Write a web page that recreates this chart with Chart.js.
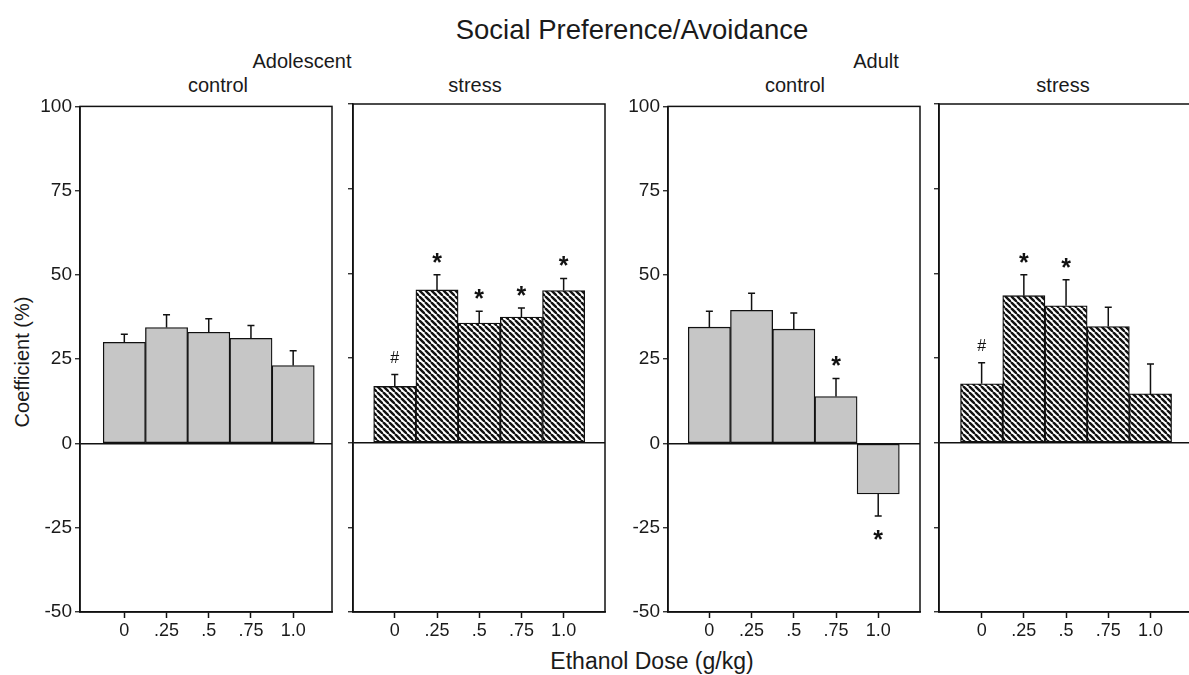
<!DOCTYPE html>
<html>
<head>
<meta charset="utf-8">
<script src="https://cdn.jsdelivr.net/npm/chart.js@4.4.1/dist/chart.umd.min.js"></script>
<style>
  body { margin: 0; width: 1189px; height: 675px; overflow: hidden; background: #fff;
         font-family: "Liberation Sans", Arial, sans-serif; color: #1a1a1a; position: relative; }
  canvas { position: absolute; }
  .lbl { position: absolute; white-space: nowrap; transform: translate(-50%, -50%); }
</style>
</head>
<body>
<div class="lbl" style="left:632px; top:30px; font-size:27.5px;">Social Preference/Avoidance</div>
<div class="lbl" style="left:302px; top:61px; font-size:20px;">Adolescent</div>
<div class="lbl" style="left:876px; top:61px; font-size:20px;">Adult</div>
<div class="lbl" style="left:218px; top:85px; font-size:20px;">control</div>
<div class="lbl" style="left:475px; top:85px; font-size:20px;">stress</div>
<div class="lbl" style="left:795px; top:85px; font-size:20px;">control</div>
<div class="lbl" style="left:1063px; top:85px; font-size:20px;">stress</div>
<div class="lbl" style="left:652px; top:661px; font-size:23px;">Ethanol Dose (g/kg)</div>
<div class="lbl" style="left:22px; top:362px; font-size:20px; transform: translate(-50%, -50%) rotate(-90deg);">Coefficient (%)</div>

<canvas id="c1" width="322" height="560"></canvas>
<canvas id="c2" width="322" height="560"></canvas>
<canvas id="c3" width="322" height="560"></canvas>
<canvas id="c4" width="322" height="560"></canvas>

<script>
// ethanol doses (x tick labels)
const doses = ["0", ".25", ".5", ".75", "1.0"];
const yTicks = [100, 75, 50, 25, 0, -25, -50];

// mean coefficient (%) per dose
const adolControl = [30, 34.4, 33, 31.2, 23.1];
const adolStress  = [16.6, 45.1, 35.3, 37.1, 44.9];
const adultControl = [34.5, 39.5, 33.9, 13.9, -15];
const adultStress  = [17.4, 43.4, 40.4, 34.3, 14.4];

// SEM (drawn on the side away from zero)
const adolControlErr = [2.4, 3.8, 4.0, 3.8, 4.4];
const adolStressErr  = [3.5, 4.5, 3.5, 2.7, 3.6];
const adultControlErr = [4.7, 5.1, 4.8, 5.4, 6.5];
const adultStressErr  = [6.2, 6.2, 7.7, 5.7, 8.8];

// significance marks
const adolControlSig = ["", "", "", "", ""];
const adolStressSig  = ["#", "*", "*", "*", "*"];
const adultControlSig = ["", "", "", "*", "*"];
const adultStressSig  = ["#", "*", "*", "", ""];

Chart.defaults.font.family = '"Liberation Sans", Arial, sans-serif';
Chart.defaults.font.size = 18;
Chart.defaults.color = '#1a1a1a';

function hatchPattern() {
  const p = 6;
  const t = document.createElement('canvas');
  t.width = p; t.height = p;
  const g = t.getContext('2d');
  g.fillStyle = '#fff';
  g.fillRect(0, 0, p, p);
  g.strokeStyle = '#111';
  g.lineWidth = 2.4;
  for (let k = -1; k <= 1; k++) {
    g.beginPath();
    g.moveTo(k * p, 0);
    g.lineTo(k * p + p, p);
    g.stroke();
  }
  return g.createPattern(t, 'repeat');
}

// box round the plot area
const framePlugin = {
  id: 'frame',
  afterDraw(chart) {
    const a = chart.chartArea, ctx = chart.ctx;
    ctx.save();
    ctx.strokeStyle = '#111';
    ctx.lineWidth = 1.5;
    ctx.strokeRect(a.left, a.top, a.right - a.left, a.bottom - a.top);
    ctx.restore();
  }
};

// one-sided error bars and * / # marks
const errPlugin = {
  id: 'errbars',
  afterDatasetsDraw(chart, args, opts) {
    const ctx = chart.ctx;
    const y = chart.scales.y;
    const meta = chart.getDatasetMeta(0);
    const vals = chart.data.datasets[0].data;
    ctx.save();
    meta.data.forEach((bar, i) => {
      const v = vals[i].y;
      const s = v < 0 ? -1 : 1;
      const y0 = y.getPixelForValue(v);
      const y1 = y.getPixelForValue(v + s * opts.err[i]);
      ctx.strokeStyle = '#111';
      ctx.lineWidth = 1.5;
      ctx.beginPath();
      ctx.moveTo(bar.x, y0);
      ctx.lineTo(bar.x, y1);
      ctx.moveTo(bar.x - 3.5, y1);
      ctx.lineTo(bar.x + 3.5, y1);
      ctx.stroke();
      const mark = opts.sig[i];
      if (mark) {
        ctx.fillStyle = '#111';
        ctx.textAlign = 'center';
        ctx.textBaseline = 'alphabetic';
        const cy = y1 - s * 18;
        if (mark === '*') {
          ctx.font = 'bold 25px "Liberation Sans", Arial, sans-serif';
          ctx.fillText('*', bar.x, cy + 14);
        } else {
          ctx.font = '16px "Liberation Sans", Arial, sans-serif';
          ctx.fillText(mark, bar.x, cy + 6);
        }
      }
    });
    ctx.restore();
  }
};

function makePanel(id, left, values, errs, sig, hatched, showYLabels, xmin) {
  const el = document.getElementById(id);
  el.style.left = (left - 60) + 'px';
  el.style.top = '92px';
  const fill = hatched ? hatchPattern() : '#c6c6c6';
  return new Chart(el, {
    type: 'bar',
    data: {
      datasets: [{
        data: values.map((v, i) => ({ x: i, y: v })),
        backgroundColor: fill,
        borderColor: '#111',
        borderWidth: 1.3,
        borderSkipped: false,
        barPercentage: 1,
        categoryPercentage: 1
      }]
    },
    options: {
      responsive: false,
      animation: false,
      layout: { padding: { left: 0, right: 10, top: 12, bottom: 0 } },
      plugins: {
        legend: { display: false },
        tooltip: { enabled: false },
        errbars: { err: errs, sig: sig }
      },
      scales: {
        x: {
          type: 'linear',
          offset: false,
          min: xmin,
          max: xmin + 5.97,
          afterBuildTicks(scale) { scale.ticks = doses.map((d, i) => ({ value: i })); },
          afterFit(scale) { scale.height = 40; },
          ticks: { callback: (v) => doses[v], padding: 2, maxRotation: 0, autoSkip: false,
                   color: '#1a1a1a', font: { size: 18 } },
          grid: { offset: false, drawOnChartArea: false, drawTicks: true, tickLength: 6,
                  tickColor: '#111', tickWidth: 1.5 },
          border: { display: true, color: '#111', width: 1.5 }
        },
        y: {
          min: -50,
          max: 100,
          afterBuildTicks(scale) { scale.ticks = yTicks.map(v => ({ value: v })); },
          afterFit(scale) { scale.width = 60; },
          ticks: { display: showYLabels, padding: 3, color: '#1a1a1a', font: { size: 19 } },
          grid: {
            drawOnChartArea: true,
            color: (c) => (c.tick && c.tick.value === 0 ? '#111' : 'rgba(0,0,0,0)'),
            lineWidth: 1.5,
            tickColor: '#111',
            tickLength: 5,
            tickWidth: 1.2
          },
          border: { display: true, color: '#111', width: 1.5 }
        }
      }
    },
    plugins: [framePlugin, errPlugin]
  });
}

makePanel('c1', 80, adolControl, adolControlErr, adolControlSig, false, true, -1.05);
makePanel('c2', 353, adolStress, adolStressErr, adolStressSig, true, false, -0.99);
makePanel('c3', 668, adultControl, adultControlErr, adultControlSig, false, true, -0.98);
makePanel('c4', 939, adultStress, adultStressErr, adultStressSig, true, false, -1.01);
</script>
</body>
</html>
